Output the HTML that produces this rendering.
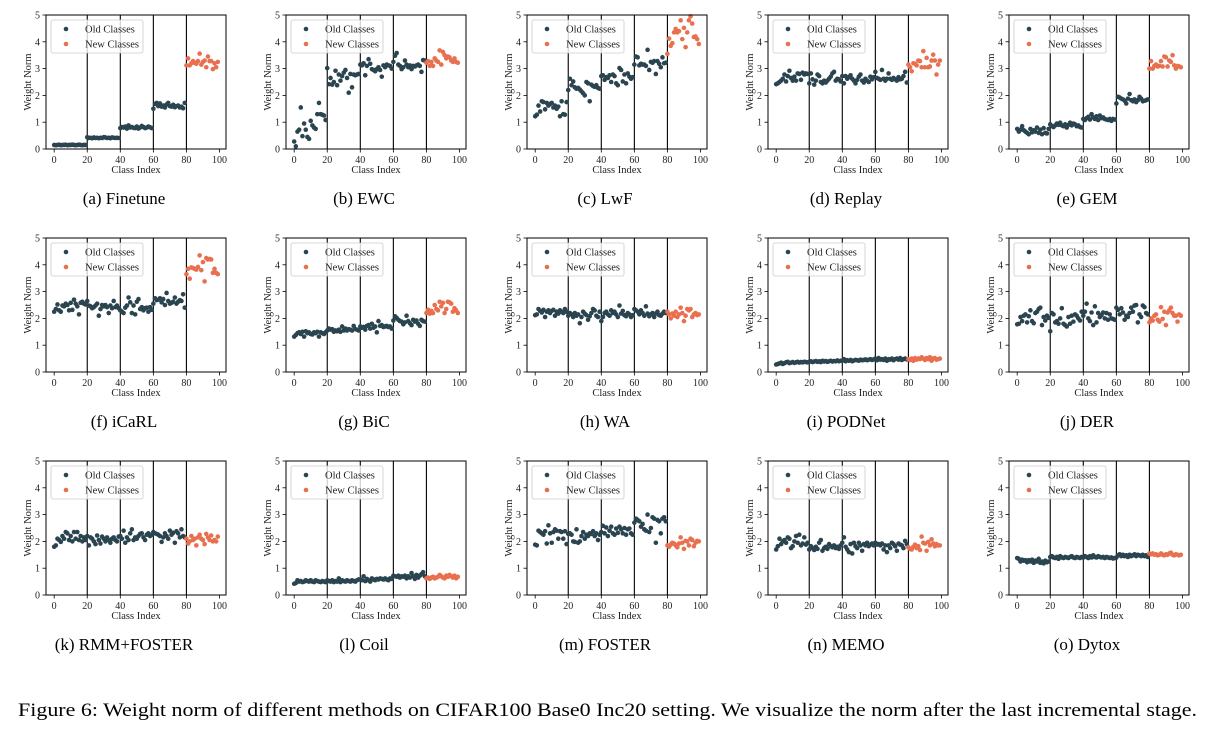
<!DOCTYPE html>
<html><head><meta charset="utf-8"><style>
body{margin:0;background:#fff;}
svg{display:block;font-family:"Liberation Serif",serif;}
</style></head><body>
<svg id="fig" width="1218" height="730" viewBox="0 0 1218 730"></svg>
<script>
const titles=["(a)  Finetune","(b)  EWC","(c)  LwF","(d)  Replay","(e)  GEM","(f)  iCaRL","(g)  BiC","(h)  WA","(i)  PODNet","(j)  DER","(k)  RMM+FOSTER","(l)  Coil","(m)  FOSTER","(n)  MEMO","(o)  Dytox"];
const xTicks=[0,20,40,60,80,100];
const yTicks=[0,1,2,3,4,5];
const taskBounds=[20,40,60,80];
const finetune=[.15,.14,.15,.16,.14,.15,.15,.16,.14,.15,.15,.16,.15,.14,.15,.16,.15,.14,.15,.15,.44,.41,.42,.40,.43,.41,.42,.40,.42,.41,.44,.43,.41,.42,.40,.43,.42,.41,.42,.41,.78,.82,.80,.84,.76,.88,.80,.82,.79,.78,.84,.76,.80,.86,.82,.78,.80,.84,.81,.78,1.50,1.68,1.72,1.60,1.70,1.58,1.62,1.55,1.66,1.72,1.60,1.58,1.65,1.56,1.60,1.62,1.55,1.58,1.52,1.72,3.12,3.38,3.12,3.20,3.28,3.22,3.18,3.28,3.56,3.15,3.25,3.30,3.05,3.45,3.28,3.28,2.98,3.20,3.05,3.25];
const ewc=[.28,.10,.65,.72,1.55,.48,.95,.72,.45,.38,1.05,.88,.80,.75,1.30,1.72,1.30,1.28,1.25,1.08,3.02,2.42,2.65,2.40,2.50,2.92,2.38,2.78,2.55,2.72,2.85,2.95,2.65,2.10,2.80,2.30,2.78,2.75,2.78,2.80,3.15,3.12,3.20,2.75,3.10,3.35,3.18,2.98,2.95,2.90,2.98,3.05,2.95,2.70,3.12,3.05,3.15,3.12,3.10,3.00,3.25,3.48,3.58,3.15,3.10,2.98,3.05,3.30,3.15,3.05,3.12,2.98,3.10,3.08,3.12,3.15,3.10,2.88,3.32,3.30,3.22,3.28,3.10,3.25,3.10,3.38,3.30,3.25,3.68,3.15,3.62,3.50,3.38,3.45,3.42,3.30,3.25,3.38,3.25,3.22];
const lwf=[1.22,1.28,1.62,1.40,1.78,1.75,1.48,1.72,1.62,1.68,1.72,1.55,1.62,1.50,1.58,1.22,1.78,1.30,1.28,1.75,2.20,2.62,2.38,2.52,2.30,2.25,2.28,2.22,2.15,2.08,2.00,2.50,2.45,1.78,2.40,2.35,2.32,2.38,2.28,2.25,2.72,2.75,2.58,2.68,2.65,2.75,2.50,2.78,2.72,2.45,2.38,3.02,2.95,2.52,2.78,2.45,2.82,2.70,2.62,2.68,3.15,3.45,3.42,3.12,3.18,3.15,3.15,3.10,3.70,2.95,3.25,3.22,3.28,2.80,3.28,3.18,3.05,3.42,3.20,3.22,3.55,4.12,3.85,3.95,4.35,4.48,4.35,4.40,4.80,4.10,4.52,3.80,4.35,4.80,4.95,4.68,4.18,4.20,4.10,3.92];
const replay=[2.42,2.45,2.50,2.55,2.62,2.78,2.52,2.72,2.92,2.65,2.55,2.70,2.55,2.82,2.80,2.58,2.85,2.78,2.82,2.80,2.45,2.82,2.60,2.40,2.55,2.78,2.72,2.50,2.45,2.55,2.48,2.55,2.62,2.70,2.82,2.88,2.55,2.62,2.60,2.52,2.72,2.45,2.72,2.62,2.68,2.75,2.62,2.55,2.45,2.58,2.70,2.78,2.55,2.48,2.62,2.55,2.50,2.70,2.60,2.68,2.88,2.65,2.62,2.58,2.95,2.62,2.55,2.62,2.82,2.62,2.58,2.65,2.60,2.55,2.68,2.60,2.62,2.72,2.88,2.48,3.15,3.05,2.90,3.20,3.18,3.12,3.30,3.28,3.05,3.65,3.05,3.40,3.05,3.08,3.30,3.52,3.30,2.78,3.15,3.30];
const gem=[.75,.65,.72,.85,.70,.65,.60,.55,.75,.62,.70,.65,.80,.60,.72,.55,.78,.60,.58,.75,.92,.85,.82,.88,.95,.90,.98,.88,.85,.92,.80,.90,.98,.88,.95,.92,.85,.88,.82,.80,1.12,1.08,1.15,1.20,1.10,1.30,1.18,1.12,1.22,1.08,1.25,1.15,1.18,1.12,1.10,1.08,1.12,1.05,1.12,1.10,1.70,1.95,1.92,1.88,1.85,1.80,1.70,1.88,2.05,1.82,1.78,1.85,1.75,1.82,1.95,1.88,1.78,1.80,1.82,1.85,3.00,3.28,3.00,3.10,3.15,3.08,3.10,3.28,3.08,3.45,3.42,3.08,3.30,3.25,3.50,3.12,3.00,3.10,3.08,3.05];
const icarl=[2.25,2.35,2.52,2.30,2.25,2.48,2.45,2.55,2.50,2.30,2.58,2.32,2.70,2.55,2.45,2.15,2.58,2.62,2.55,2.52,2.65,2.48,2.45,2.38,2.42,2.48,2.55,2.10,2.35,2.50,2.45,2.50,2.42,2.20,2.48,2.38,2.65,2.42,2.48,2.38,2.30,2.25,2.20,2.40,2.48,2.78,2.60,2.20,2.48,2.15,2.62,2.72,2.35,2.42,2.30,2.38,2.40,2.25,2.42,2.32,2.55,2.75,2.68,2.70,2.75,2.60,2.72,2.50,2.95,2.65,2.55,2.58,2.62,2.78,2.55,2.62,2.68,2.65,2.90,2.40,3.65,3.85,3.48,3.90,3.88,3.85,3.82,3.92,4.35,3.80,4.10,3.38,4.25,4.20,4.22,4.20,3.70,3.85,3.70,3.65];
const bic=[1.32,1.38,1.45,1.48,1.42,1.50,1.32,1.52,1.45,1.48,1.42,1.40,1.48,1.45,1.50,1.32,1.48,1.45,1.42,1.48,1.55,1.62,1.58,1.60,1.50,1.55,1.52,1.58,1.50,1.70,1.55,1.62,1.55,1.60,1.58,1.55,1.72,1.60,1.58,1.55,1.70,1.65,1.68,1.58,1.72,1.75,1.62,1.80,1.65,1.70,1.48,1.90,1.72,1.75,1.68,1.70,1.72,1.68,1.70,1.62,1.92,2.08,2.02,1.95,1.90,1.88,1.78,1.85,2.10,1.90,1.82,1.75,1.95,1.88,1.92,1.80,1.72,1.95,1.90,1.88,2.20,2.32,2.18,2.28,2.20,2.50,2.35,2.30,2.62,2.45,2.58,2.20,2.35,2.62,2.60,2.55,2.25,2.38,2.30,2.20];
const wa=[2.12,2.15,2.35,2.28,2.22,2.32,2.05,2.25,2.30,2.20,2.28,2.32,2.10,2.25,2.18,2.30,2.25,2.20,2.35,2.25,2.10,2.20,2.15,2.05,2.20,2.10,2.15,1.82,2.05,2.25,2.18,2.12,1.95,2.08,2.20,2.35,2.30,2.10,2.05,2.25,1.90,2.05,2.20,2.25,2.15,2.10,2.30,2.20,2.25,2.15,2.05,2.48,2.18,2.28,2.12,2.08,2.20,2.15,2.05,2.12,2.35,2.30,2.25,2.15,2.30,2.20,2.10,2.45,2.18,2.08,2.15,2.20,2.05,2.18,2.25,2.12,2.10,2.18,2.25,2.20,2.25,2.15,2.00,2.18,2.10,2.25,2.05,2.15,2.40,2.20,1.90,2.10,2.35,2.30,2.35,2.05,2.15,2.20,2.12,2.15];
const podnet=[.28,.30,.32,.35,.30,.33,.36,.38,.33,.35,.37,.34,.36,.38,.35,.37,.36,.38,.37,.36,.38,.40,.37,.39,.41,.38,.40,.37,.42,.39,.41,.38,.40,.42,.39,.41,.40,.43,.40,.42,.42,.48,.40,.44,.42,.45,.40,.43,.45,.44,.42,.46,.44,.45,.47,.44,.46,.48,.45,.47,.50,.44,.52,.46,.48,.45,.50,.42,.48,.46,.50,.44,.48,.50,.46,.52,.45,.48,.50,.47,.48,.45,.50,.42,.52,.46,.50,.48,.55,.50,.45,.52,.48,.55,.42,.50,.52,.46,.48,.50];
const der=[1.78,1.80,2.05,1.90,2.10,2.15,1.85,2.08,2.30,1.90,1.82,2.20,2.25,2.35,2.40,1.75,2.05,1.92,2.10,2.02,1.52,2.20,2.15,1.85,1.90,1.80,2.00,2.38,1.80,1.75,1.70,2.05,1.80,2.10,1.88,2.15,2.10,2.00,1.92,2.25,2.10,2.25,2.55,2.00,1.90,2.22,1.75,2.45,1.85,2.20,2.05,2.12,2.22,2.00,2.20,1.95,2.15,2.00,1.98,1.95,2.40,2.32,2.15,2.38,2.22,1.95,2.10,2.05,2.20,2.40,2.25,2.48,2.50,1.85,2.15,2.05,2.48,2.42,2.20,2.15,1.85,2.00,1.92,2.10,2.15,1.95,1.88,2.42,1.98,2.25,1.75,2.22,2.30,2.40,2.20,2.10,2.10,1.88,2.15,2.10];
const rmm=[1.80,1.85,2.10,2.05,1.98,2.20,2.10,2.35,2.30,2.05,2.20,2.00,2.35,2.10,2.35,2.05,2.20,2.00,2.15,2.05,2.20,1.85,2.15,2.10,2.00,1.90,2.22,2.05,1.92,2.18,2.10,2.00,2.15,2.05,1.95,2.10,2.15,2.05,2.00,2.18,2.20,2.10,2.40,1.95,2.15,2.05,2.30,2.45,2.05,2.15,2.10,2.20,2.28,2.30,2.15,2.05,2.25,2.30,2.20,2.25,2.35,2.30,2.28,2.25,2.20,1.98,2.15,2.30,2.20,2.10,2.40,2.25,2.32,1.95,2.38,2.30,2.15,2.45,2.20,2.15,2.10,1.92,2.00,2.20,2.05,2.10,1.85,2.15,2.25,2.10,2.05,1.90,2.28,2.15,2.05,2.22,2.00,2.05,2.00,2.18];
const coil=[.42,.45,.55,.50,.52,.48,.50,.55,.52,.50,.55,.50,.48,.55,.52,.50,.48,.52,.50,.48,.55,.52,.50,.55,.48,.52,.50,.62,.48,.55,.52,.50,.55,.52,.50,.55,.52,.50,.55,.58,.58,.55,.70,.52,.60,.55,.50,.62,.58,.55,.60,.58,.62,.60,.58,.62,.58,.55,.62,.60,.72,.70,.68,.72,.65,.70,.68,.72,.62,.70,.65,.82,.70,.60,.75,.65,.72,.78,.85,.70,.62,.65,.60,.65,.68,.62,.65,.68,.75,.70,.65,.62,.72,.68,.75,.70,.65,.72,.62,.68];
const foster=[1.88,1.85,2.40,2.35,2.30,2.25,2.38,1.92,2.60,2.30,1.95,2.35,2.45,2.40,2.10,2.38,2.35,2.10,2.38,1.90,2.28,2.30,2.25,2.00,1.98,2.45,1.95,2.00,2.20,2.35,2.10,2.25,2.20,2.30,2.28,2.38,2.20,2.30,2.05,2.25,2.35,2.58,2.30,2.52,2.20,2.40,2.55,2.30,2.25,2.48,2.32,2.55,2.45,2.30,2.50,2.25,2.45,2.48,2.30,2.25,2.70,2.85,2.80,2.75,2.55,2.65,2.45,2.40,3.00,2.35,2.50,2.90,2.85,1.95,2.80,2.75,2.30,2.85,2.90,2.75,1.85,1.80,1.88,1.95,1.92,1.85,1.78,1.92,2.15,1.95,1.72,2.02,2.00,1.85,2.10,2.05,1.82,1.95,2.02,2.00];
const memo=[1.70,1.82,2.10,1.90,2.00,2.05,1.95,2.15,2.10,1.75,1.82,2.00,2.20,1.95,2.25,1.85,1.92,2.15,1.88,1.95,1.70,1.82,1.75,1.68,1.80,1.72,1.95,2.05,1.65,1.75,1.80,1.72,1.90,1.82,1.78,1.85,1.75,1.80,1.72,1.85,1.95,2.15,1.80,1.70,1.60,1.90,1.55,1.95,1.82,1.75,1.95,1.85,1.65,1.90,1.85,1.95,1.82,1.88,1.92,1.85,1.95,1.88,1.90,1.85,1.92,1.70,1.85,1.60,1.85,1.75,1.95,1.90,1.82,1.65,1.92,1.88,1.85,1.75,2.02,1.90,1.78,1.72,1.70,1.80,1.88,1.75,1.82,1.68,2.18,1.95,1.92,1.65,1.98,1.85,2.08,1.92,1.82,1.90,1.85,1.85];
const dytox=[1.38,1.35,1.25,1.32,1.28,1.30,1.22,1.30,1.25,1.32,1.20,1.28,1.25,1.35,1.20,1.25,1.18,1.28,1.22,1.25,1.42,1.45,1.40,1.38,1.42,1.35,1.45,1.40,1.38,1.42,1.40,1.38,1.42,1.45,1.40,1.38,1.42,1.40,1.38,1.42,1.40,1.45,1.42,1.38,1.45,1.40,1.48,1.42,1.40,1.45,1.42,1.40,1.42,1.38,1.42,1.40,1.38,1.40,1.36,1.38,1.40,1.48,1.52,1.45,1.50,1.45,1.48,1.42,1.50,1.45,1.48,1.52,1.45,1.50,1.48,1.45,1.50,1.45,1.48,1.42,1.55,1.52,1.55,1.50,1.52,1.48,1.50,1.55,1.50,1.48,1.52,1.50,1.55,1.58,1.50,1.48,1.52,1.50,1.48,1.50];
const series=[finetune,ewc,lwf,replay,gem,icarl,bic,wa,podnet,der,rmm,coil,foster,memo,dytox];
const newStart=80;

const NS="http://www.w3.org/2000/svg";
const svg=document.getElementById('fig');
function mk(tag,attrs,parent){const e=document.createElementNS(NS,tag);for(const k in attrs)e.setAttribute(k,attrs[k]);(parent||svg).appendChild(e);return e;}
const lefts=[46,286,527,768,1009], tops=[15,238,461], W=180, H=134;
const XMIN=-4.95, XMAX=103.95, YMIN=0, YMAX=5;
series.forEach((vals,p)=>{
  const L=lefts[p%5], T=tops[Math.floor(p/5)];
  const xs=v=>L+(v-XMIN)/(XMAX-XMIN)*W;
  const ys=v=>T+H-(v-YMIN)/(YMAX-YMIN)*H;
  const g=mk('g',{});
  
  
  taskBounds.forEach(b=>{
    const ln=mk('line',{x1:xs(b),x2:xs(b),y1:T,y2:T+H,stroke:'#000','stroke-width':1.1},g);
    
    
  });
  vals.forEach((v,i)=>{
    const c=mk('circle',{cx:xs(i),cy:ys(v),r:2.3,fill:i<newStart?'#2a4450':'#e8704f'},g);
    
    
  });
  const fr=mk('rect',{x:L,y:T,width:W,height:H,fill:'none',stroke:'#000','stroke-width':1},g);
  
  
  yTicks.forEach(t=>{
    mk('line',{x1:L-3.5,x2:L,y1:ys(t),y2:ys(t),stroke:'#000','stroke-width':0.8},g);
    const tx=mk('text',{x:L-6,y:ys(t)+3.5,'font-size':10,'text-anchor':'end',fill:'#222'},g);
    tx.textContent=t;
    
    
  });
  xTicks.forEach(t=>{
    mk('line',{x1:xs(t),x2:xs(t),y1:T+H,y2:T+H+3.5,stroke:'#000','stroke-width':0.8},g);
    const tx=mk('text',{x:xs(t),y:T+H+14,'font-size':10,'text-anchor':'middle',fill:'#222'},g);
    tx.textContent=t;
    
    
  });
  const xl=mk('text',{x:L+W/2,y:T+H+24,'font-size':10.5,'text-anchor':'middle',fill:'#222'},g);
  xl.textContent='Class Index';
  
  
  const yl=mk('text',{x:0,y:0,'font-size':10.5,'text-anchor':'middle',fill:'#222',transform:`translate(${L-15},${T+H/2}) rotate(-90)`},g);
  yl.textContent='Weight Norm';
  
  
  const lg=mk('g',{},g);
  
  
  mk('rect',{x:L+5,y:T+5,width:92,height:33,rx:2,fill:'#fff','fill-opacity':0.8,stroke:'#ccc','stroke-width':0.8},lg);
  [['Old Classes','#2a4450',14],['New Classes','#e8704f',29]].forEach(([lab,col,dy])=>{
    const e=mk('g',{},lg);
    
    
    mk('circle',{cx:L+20,cy:T+dy,r:2.3,fill:col},e);
    const t=mk('text',{x:L+39,y:T+dy+3.5,'font-size':10.5,fill:'#222'},e);
    t.textContent=lab;
  });
  const cap=mk('text',{x:L+W/2-12,y:T+H+55,'font-size':17,'text-anchor':'middle',fill:'#000'},g);
  cap.textContent=titles[p];
  
  
});
const fc=mk('text',{x:18,y:716,'font-size':19,fill:'#000',textLength:1179,lengthAdjust:'spacingAndGlyphs'});
fc.textContent='Figure 6: Weight norm of different methods on CIFAR100 Base0 Inc20 setting. We visualize the norm after the last incremental stage.';


</script>
</body></html>
